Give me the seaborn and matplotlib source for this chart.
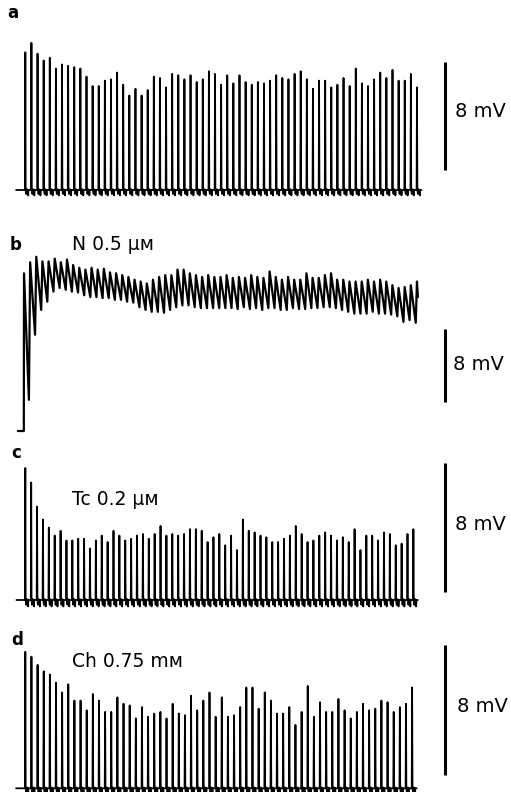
import pandas as pd
import seaborn as sns
import matplotlib.pyplot as plt

W, H = 511, 792

# spike peak heights (mV above resting baseline)
peaks_a = [10.2, 10.9, 10.1, 9.6, 9.8, 9.0, 9.3, 9.2, 9.1, 9.0,
           8.4, 7.7, 7.7, 8.1, 8.2, 8.7, 7.8, 7.0, 7.5, 7.0,
           7.4, 8.4, 8.3, 7.6, 8.6, 8.5, 8.2, 8.5, 8.0, 8.2,
           8.8, 8.6, 7.8, 8.5, 7.9, 8.5, 8.0, 7.8, 8.0, 7.9,
           8.1, 8.5, 8.3, 8.2, 8.6, 8.8, 8.2, 7.5, 8.1, 8.1,
           7.6, 7.8, 8.3, 7.7, 9.0, 7.9, 7.7, 8.2, 8.7, 8.3,
           8.9, 8.1, 8.1, 8.6, 7.6]

peaks_c = [8.2, 7.3, 5.8, 5.0, 4.5, 4.0, 4.3, 3.7, 3.7, 3.8,
           3.8, 3.2, 3.7, 4.0, 3.6, 4.3, 4.0, 3.7, 3.8, 4.0,
           4.1, 3.8, 4.1, 4.6, 4.0, 4.1, 4.0, 4.1, 4.4, 4.4,
           4.3, 3.6, 3.9, 4.1, 3.4, 4.0, 3.1, 5.0, 4.3, 4.2,
           4.0, 3.9, 3.6, 3.6, 3.8, 4.0, 4.6, 4.1, 3.6, 3.7,
           4.0, 4.2, 4.0, 3.7, 3.9, 3.6, 4.4, 3.1, 4.0, 4.0,
           3.7, 4.2, 4.1, 3.4, 3.5, 4.1, 4.4]

peaks_d = [8.4, 8.1, 7.6, 7.2, 7.0, 6.5, 5.9, 6.4, 5.4, 5.4,
           4.8, 5.8, 5.4, 4.7, 4.7, 5.6, 5.2, 5.1, 4.3, 5.0,
           4.4, 4.6, 4.7, 4.3, 5.2, 4.6, 4.5, 5.7, 4.8, 5.4,
           5.9, 4.4, 5.6, 4.4, 4.5, 5.0, 6.2, 6.2, 4.9, 5.9,
           5.4, 4.6, 4.6, 5.0, 3.9, 4.7, 6.3, 4.4, 5.3, 4.7,
           4.7, 5.5, 4.8, 4.3, 4.7, 5.2, 4.8, 4.9, 5.4, 5.3,
           4.7, 5.0, 5.2, 6.2]

# nicotine trace: top and bottom of every oscillation cycle (mV)
b_peak = [17.2, 18.4, 19.0, 18.5, 18.5, 18.8, 18.4, 18.7, 18.1, 17.8,
          17.6, 17.8, 17.6, 17.7, 17.3, 17.2, 17.0, 16.8, 16.5, 16.3,
          16.1, 16.5, 16.8, 17.0, 17.0, 17.6, 17.6, 17.2, 17.0, 16.8,
          17.0, 16.8, 16.8, 17.0, 16.7, 16.8, 16.7, 17.0, 16.8, 16.7,
          17.4, 16.8, 16.5, 16.8, 16.5, 16.5, 17.2, 16.7, 16.7, 17.0,
          17.2, 16.5, 16.5, 16.3, 16.3, 16.3, 16.5, 16.3, 16.5, 16.3,
          15.9, 15.6, 15.7, 15.9, 16.3]
b_trough = [3.4, 10.5, 13.2, 14.1, 15.2, 15.6, 15.4, 15.2, 15.1, 14.8,
            14.6, 14.6, 14.5, 14.5, 14.3, 14.3, 14.1, 14.0, 13.5, 13.2,
            13.0, 13.0, 12.9, 13.2, 13.5, 13.7, 13.7, 13.5, 13.4, 13.4,
            13.4, 13.4, 13.4, 13.4, 13.3, 13.5, 13.3, 13.4, 13.2, 13.4,
            13.4, 13.2, 13.2, 13.4, 13.3, 13.3, 13.4, 13.4, 13.5, 13.5,
            13.4, 13.2, 13.0, 12.8, 12.8, 12.8, 13.0, 12.8, 12.8, 12.7,
            12.5, 11.9, 12.1, 11.8]
b_end = 14.6

labels = ["a", "b", "c", "d"]
drugs = [None, "N 0.5 μᴍ", "Tc 0.2 μᴍ", "Ch 0.75 mᴍ"]

# shape of one stimulus cycle in the spike trains
spike_dt = [-0.06, 0.0, 0.06, 0.16, 0.30, 0.42, 0.47, 0.52, 0.75]
spike_frac = [0, 1, 0, 0, 0, 0, 0, 0, 0]
spike_off = [0, 0, 0, -0.3, 0.05, 0, -0.4, 0, 0]


def spike_train(peaks):
    t, v = [-1.5], [0.0]
    for k, p in enumerate(peaks):
        for dt, f, o in zip(spike_dt, spike_frac, spike_off):
            t.append(k + dt)
            v.append(f * p + o)
    return pd.DataFrame({"t": t, "mV": v})


def sawtooth(peaks, troughs, end):
    t, v = [-1.0, -0.03], [0.0, 0.0]
    for k, p in enumerate(peaks):
        t.append(k)
        v.append(p)
        if k < len(troughs):
            t.append(k + 0.8)
            v.append(troughs[k])
    t.append(len(peaks) - 1 + 0.15)
    v.append(end)
    return pd.DataFrame({"t": t, "mV": v})


traces = [spike_train(peaks_a), sawtooth(b_peak, b_trough, b_end),
          spike_train(peaks_c), spike_train(peaks_d)]
widths = [1.3, 1.6, 1.3, 1.3]

# layout in pixels: axes top, bottom, first stimulus x, stimulus spacing,
# baseline y, px per mV, scale bar bottom y
layout = [
    (25, 200, 25.3, 6.12, 190.0, 13.5, 170),
    (232, 440, 24.0, 6.14, 431.0, 9.17, 402),
    (445, 612, 25.3, 5.88, 600.0, 16.1, 592),
    (628, 792, 25.3, 6.14, 788.3, 16.25, 775),
]
label_pos = [(7, 18), (10, 250), (11, 458), (11, 645)]
drug_pos = [None, (72, 250), (72, 505), (72, 667)]
bar_text_pos = [(455, 117), (453, 370), (455, 530), (457, 712)]

sns.set_theme(style="white")
plt.rcParams["font.family"] = ["DejaVu Sans"]
plt.rcParams["text.color"] = "black"

fig = plt.figure(figsize=(W / 100, H / 100), dpi=100)
fig.patch.set_facecolor("white")

for i, df in enumerate(traces):
    top, bottom, x0, dx, base, k, bar_bot = layout[i]
    ax = fig.add_axes([0, 1 - bottom / H, 1, (bottom - top) / H])
    sns.lineplot(data=df, x="t", y="mV", ax=ax, estimator=None, sort=False,
                 color="black", lw=widths[i])
    ax.set_xlim(-x0 / dx, (W - x0) / dx)
    ax.set_ylim((base - bottom) / k, (base - top) / k)
    ax.axis("off")

    # 8 mV calibration bar
    xb = (444.5 - x0) / dx
    y0 = (base - bar_bot) / k
    ax.plot([xb, xb], [y0, y0 + 8], color="black", lw=2.2, solid_capstyle="butt")

    fig.text(label_pos[i][0] / W, 1 - label_pos[i][1] / H, labels[i],
             fontsize=12, fontweight="bold", va="baseline", ha="left", color="black")
    if drugs[i]:
        fig.text(drug_pos[i][0] / W, 1 - drug_pos[i][1] / H, drugs[i],
                 fontsize=13.5, va="baseline", ha="left", color="black")
    fig.text(bar_text_pos[i][0] / W, 1 - bar_text_pos[i][1] / H, "8 mV",
             fontsize=14, va="baseline", ha="left", color="black")

fig.savefig("out.png", dpi=100)
